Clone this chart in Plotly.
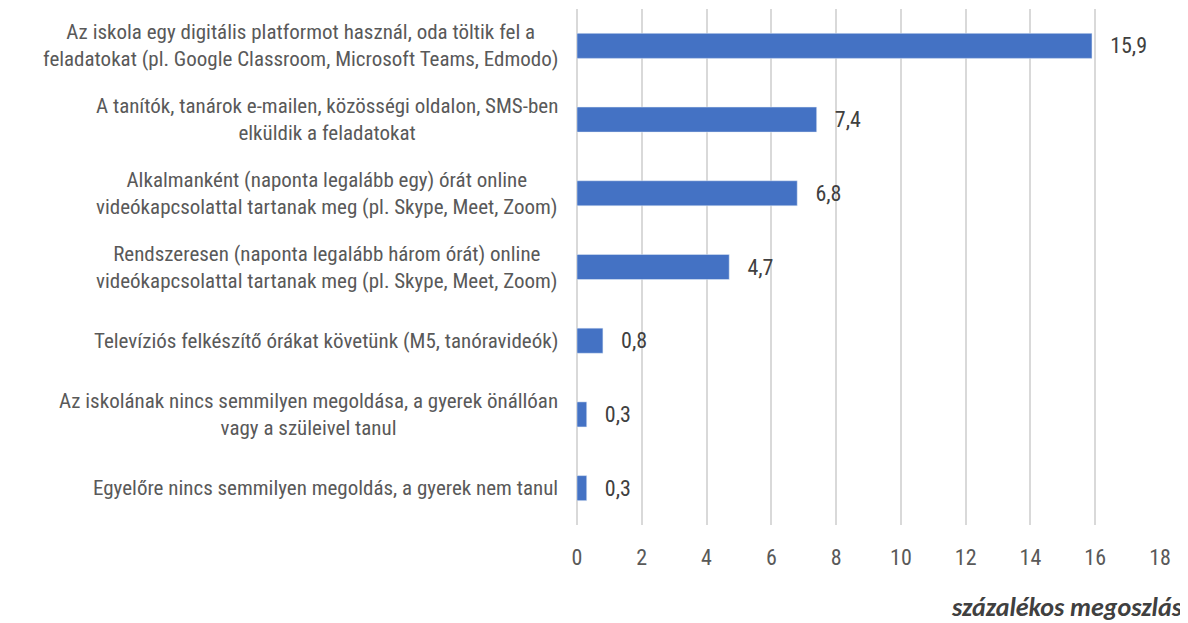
import plotly.graph_objects as go

categories = [
    "Az iskola egy digitális platformot használ, oda töltik fel a<br>feladatokat (pl. Google Classroom, Microsoft Teams, Edmodo)",
    "A tanítók, tanárok e-mailen, közösségi oldalon, SMS-ben<br>elküldik a feladatokat",
    "Alkalmanként (naponta legalább egy) órát online<br>videókapcsolattal tartanak meg (pl. Skype, Meet, Zoom)",
    "Rendszeresen (naponta legalább három órát) online<br>videókapcsolattal tartanak meg (pl. Skype, Meet, Zoom)",
    "Televíziós felkészítő órákat követünk (M5, tanóravideók)",
    "Az iskolának nincs semmilyen megoldása, a gyerek önállóan<br>vagy a szüleivel tanul",
    "Egyelőre nincs semmilyen megoldás, a gyerek nem tanul",
]
values = [15.9, 7.4, 6.8, 4.7, 0.8, 0.3, 0.3]
x_ticks = list(range(0, 19, 2))

FONT = "Liberation Sans Narrow, Arial Narrow, Roboto Condensed, Liberation Sans, sans-serif"

fig = go.Figure(go.Bar(
    x=values, y=list(range(len(categories))), orientation="h",
    marker=dict(color="#4472C4"),
    texttemplate="\u00a0\u00a0\u00a0%{x:.1f}", textposition="outside", cliponaxis=False,
    textfont=dict(family=FONT, size=22, color="#404040"),
    hoverinfo="none",
))

# category labels as annotations so multi-line text stays centered
annotations = []
for i, label in enumerate(categories):
    annotations.append(dict(
        text=label, x=0, y=i, xref="paper", yref="y",
        xanchor="right", yanchor="middle", xshift=-17, align="center",
        showarrow=False, font=dict(family=FONT, size=21, color="#595959"),
    ))
annotations.append(dict(
    text="<b><i>százalékos megoszlás</i></b>", x=1, y=0, xref="paper", yref="paper",
    xanchor="right", yanchor="middle", xshift=25, yshift=-82, showarrow=False,
    font=dict(family="Carlito, Calibri, Lato, sans-serif", size=26, color="#404040"),
))

fig.update_layout(
    width=1188, height=623,
    margin=dict(l=569, r=36, t=1, b=106),
    plot_bgcolor="white", paper_bgcolor="white",
    separators=", ",
    showlegend=False, bargap=0.66,
    annotations=annotations,
    xaxis=dict(
        range=[0, 18], tickvals=x_ticks, showgrid=True, gridcolor="#d9d9d9", gridwidth=1.5,
        zeroline=True, zerolinecolor="#d9d9d9", zerolinewidth=1.5, showline=False,
        ticks="", ticklabelstandoff=17,
        tickfont=dict(family=FONT, size=22, color="#595959"),
    ),
    yaxis=dict(
        autorange="reversed", showticklabels=False, showgrid=False, zeroline=False,
    ),
)

fig.write_html("out.html")
